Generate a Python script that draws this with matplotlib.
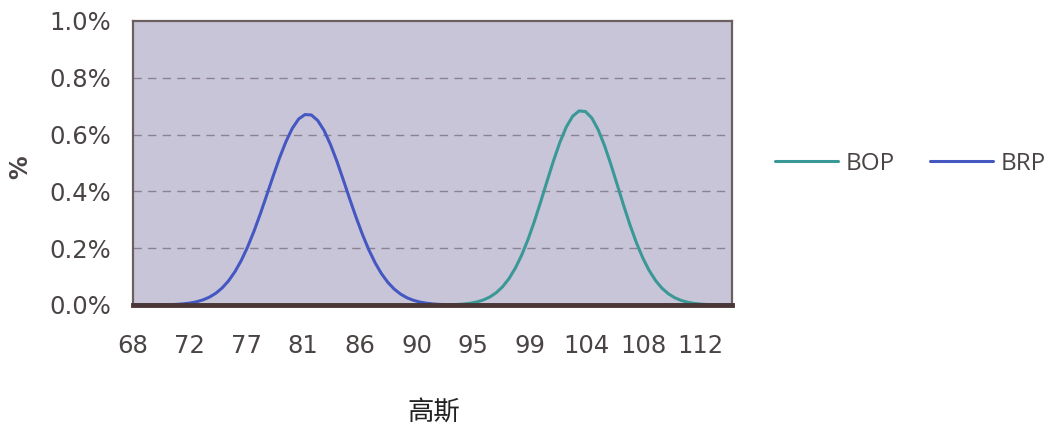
#!/usr/bin/env python3
"""Two gaussian-shaped distributions (BRP, BOP) in an Excel-like line chart."""

import matplotlib
matplotlib.use("Agg")
import matplotlib.pyplot as plt
import numpy as np

# Values (in %), one point every 0.5 on x (68 .. 115)
x_values = np.arange(68, 115.01, 0.5)
brp = [0, 0, 0, 0.0001, 0.0004, 0.0008, 0.0014, 0.0025, 0.0043, 0.0071,
       0.0115, 0.0181, 0.0277, 0.0414, 0.0602, 0.0851, 0.1172, 0.1571, 0.205, 0.2604,
       0.322, 0.3875, 0.454, 0.5181, 0.575, 0.6219, 0.655, 0.6706, 0.669, 0.6493,
       0.614, 0.5646, 0.506, 0.4409, 0.374, 0.3093, 0.249, 0.1948, 0.1485, 0.1102,
       0.0796, 0.0560, 0.0383, 0.0255, 0.0166, 0.0105, 0.0064, 0.0038, 0.0022, 0.0013,
       0.0007, 0.0004, 0.0002] + [0] * 42
bop = [0] * 49 + [
       0.0006, 0.0011, 0.0021, 0.0037, 0.0065, 0.0109, 0.0178, 0.0282, 0.0432, 0.0643,
       0.0927, 0.1297, 0.1758, 0.2313, 0.2949, 0.3647, 0.4373, 0.5085, 0.5733, 0.6269,
       0.6647, 0.6833, 0.6812, 0.6586, 0.6173, 0.5611, 0.4946, 0.4228, 0.3504, 0.2816,
       0.2195, 0.1658, 0.1216, 0.0864, 0.0595, 0.0398, 0.0258, 0.0162, 0.0099, 0.0058,
       0.0033, 0.0019, 0.0010, 0.0005, 0.0002, 0.0001]

tick_labels = ['68', '72', '77', '81', '86', '90', '95', '99', '104', '108', '112']
y_ticks = [0.0, 0.2, 0.4, 0.6, 0.8, 1.0]

text_color = '#4a4444'
frame_color = '#6b5f60'

fig = plt.figure(figsize=(10.63, 4.30), dpi=100)
ax = fig.add_axes([0.1251, 0.2907, 0.5635, 0.6605])
ax.set_facecolor('#c9c5d9')

line_bop, = ax.plot(x_values, bop, color='#3a9896', lw=2.2, label='BOP',
                    zorder=4, solid_capstyle='round', solid_joinstyle='round')
line_brp, = ax.plot(x_values, brp, color='#4558c2', lw=2.2, label='BRP',
                    zorder=5, solid_capstyle='round', solid_joinstyle='round')

ax.set_xlim(68, 115)
ax.set_ylim(0, 1.0)

ax.set_xticks(np.linspace(68, 112.5, len(tick_labels)))
ax.set_xticklabels(tick_labels)
ax.set_yticks(y_ticks)
ax.set_yticklabels([f'{v:.1f}%' for v in y_ticks])
ax.tick_params(axis='both', length=0, labelsize=17.5, colors=text_color)
ax.tick_params(axis='x', pad=21)
ax.tick_params(axis='y', pad=16)
for lab in ax.get_xticklabels() + ax.get_yticklabels():
    lab.set_family('DejaVu Sans')

for v in y_ticks[1:-1]:
    ax.axhline(v, color='#8a8292', lw=1.0, ls=(0, (6, 4.5)), zorder=1)

for side in ['top', 'left', 'right']:
    ax.spines[side].set_color(frame_color)
    ax.spines[side].set_linewidth(1.6)
ax.spines['bottom'].set_color('#4a3636')
ax.spines['bottom'].set_linewidth(3.5)
ax.spines['bottom'].set_zorder(6)

fig.text(0.019, 0.612, '%', rotation=90, fontsize=17, fontweight='bold',
         color=text_color, ha='center', va='center', family='DejaVu Sans')

fig.legend(handles=[line_bop, line_brp], loc='center left',
           bbox_to_anchor=(0.729, 0.619), ncol=2, frameon=False,
           borderpad=0, borderaxespad=0, handlelength=2.6,
           handletextpad=0.3, columnspacing=1.45,
           prop={'family': 'Open Sans', 'size': 17.5}, labelcolor=text_color)

fig.text(0.408, 0.04, '高斯', fontsize=19, color='#222222', ha='center',
         va='center', family=['Noto Sans CJK SC', 'DejaVu Sans'])

plt.savefig('out.png', dpi=100)
print("Saved out.png")
